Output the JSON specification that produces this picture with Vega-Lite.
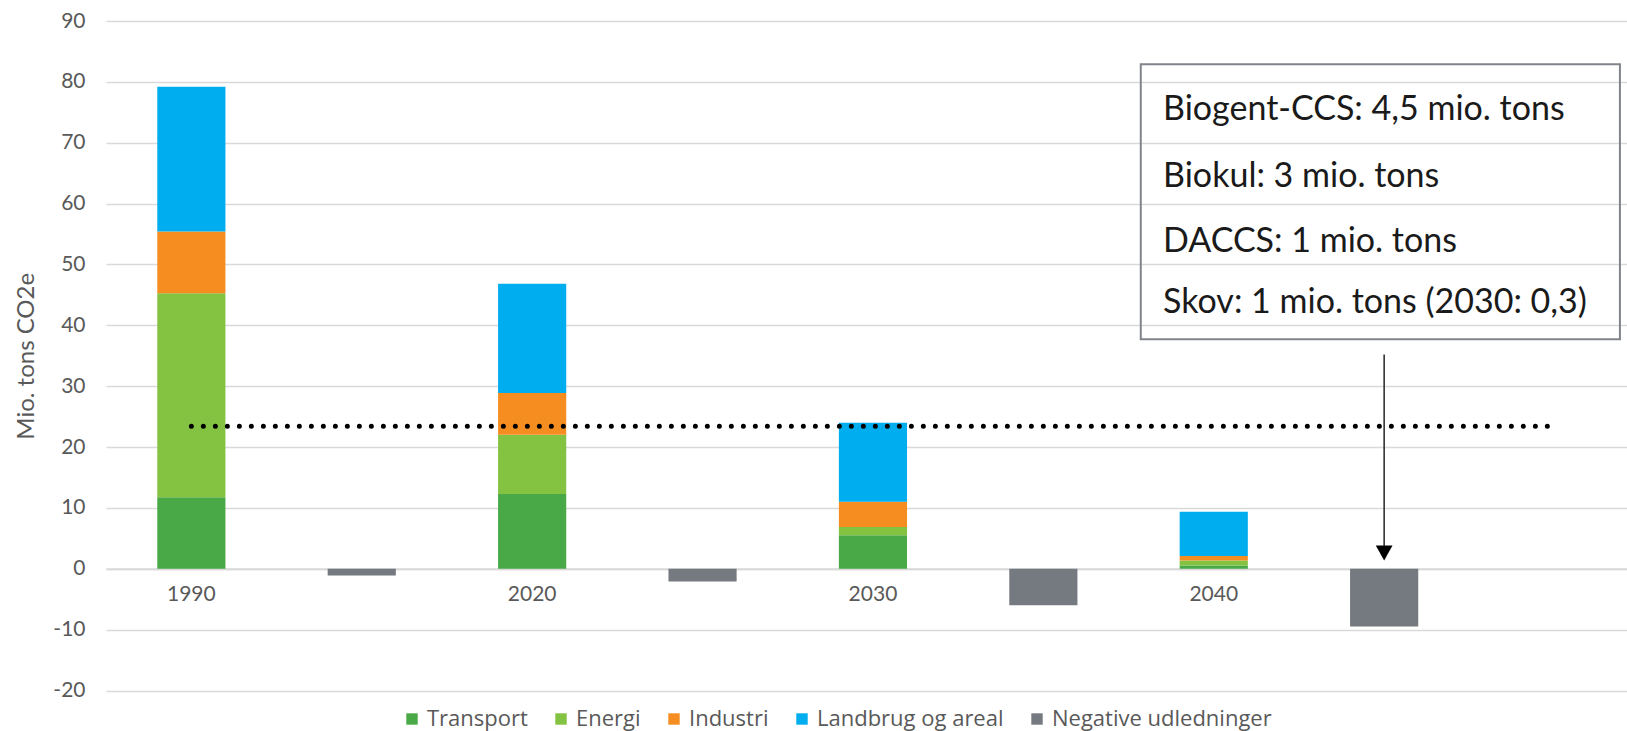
{
  "$schema": "https://vega.github.io/schema/vega-lite/v6.json",
  "width": 1521,
  "height": 669.5,
  "autosize": {"type": "none"},
  "padding": {"left": 106, "top": 21, "right": 0, "bottom": 40.5},
  "background": "white",
  "config": {
    "view": {"stroke": null},
    "font": "Lato",
    "axisY": {
      "grid": true, "gridColor": "#d9d9d9", "gridWidth": 1.5,
      "domain": false, "ticks": false,
      "labelFont": "Lato", "labelFontSize": 21, "labelColor": "#595959", "labelPadding": 21,
      "titleFont": "Lato", "titleFontSize": 24, "titleColor": "#595959", "titleFontWeight": "normal", "titlePadding": 14
    }
  },
  "datasets": {
    "udledninger": [
      {"kategori": "1990", "serie": 1, "sektor": "Transport", "værdi": 11.75},
      {"kategori": "1990", "serie": 2, "sektor": "Energi", "værdi": 33.5},
      {"kategori": "1990", "serie": 3, "sektor": "Industri", "værdi": 10.15},
      {"kategori": "1990", "serie": 4, "sektor": "Landbrug og areal", "værdi": 23.8},
      {"kategori": "1990 neg", "serie": 5, "sektor": "Negative udledninger", "værdi": -1.1},
      {"kategori": "2020", "serie": 1, "sektor": "Transport", "værdi": 12.3},
      {"kategori": "2020", "serie": 2, "sektor": "Energi", "værdi": 9.7},
      {"kategori": "2020", "serie": 3, "sektor": "Industri", "værdi": 6.9},
      {"kategori": "2020", "serie": 4, "sektor": "Landbrug og areal", "værdi": 17.95},
      {"kategori": "2020 neg", "serie": 5, "sektor": "Negative udledninger", "værdi": -2.1},
      {"kategori": "2030", "serie": 1, "sektor": "Transport", "værdi": 5.5},
      {"kategori": "2030", "serie": 2, "sektor": "Energi", "værdi": 1.35},
      {"kategori": "2030", "serie": 3, "sektor": "Industri", "værdi": 4.15},
      {"kategori": "2030", "serie": 4, "sektor": "Landbrug og areal", "værdi": 13.0},
      {"kategori": "2030 neg", "serie": 5, "sektor": "Negative udledninger", "værdi": -6.0},
      {"kategori": "2040", "serie": 1, "sektor": "Transport", "værdi": 0.55},
      {"kategori": "2040", "serie": 2, "sektor": "Energi", "værdi": 0.8},
      {"kategori": "2040", "serie": 3, "sektor": "Industri", "værdi": 0.75},
      {"kategori": "2040", "serie": 4, "sektor": "Landbrug og areal", "værdi": 7.25},
      {"kategori": "2040 neg", "serie": 5, "sektor": "Negative udledninger", "værdi": -9.5}
    ],
    "maal": [
      {"kategori": "1990", "værdi": 23.4},
      {"kategori": "efter 2040", "værdi": 23.4}
    ],
    "pil": [
      {"kategori": "2040 neg", "værdi": 35.2, "værdi2": 3.6, "spids": 2.6}
    ],
    "boks": [
      {"x": 5.572, "x2": 8.384, "værdi": 82.9, "værdi2": 37.7}
    ],
    "tekst": [
      {"x": 5.703, "værdi": 75.4, "tekst": "Biogent-CCS: 4,5 mio. tons"},
      {"x": 5.703, "værdi": 64.4, "tekst": "Biokul: 3 mio. tons"},
      {"x": 5.703, "værdi": 53.7, "tekst": "DACCS: 1 mio. tons"},
      {"x": 5.703, "værdi": 43.7, "tekst": "Skov: 1 mio. tons (2030: 0,3)"}
    ]
  },
  "layer": [
    {
      "encoding": {
        "x": {
          "field": "kategori", "type": "nominal",
          "scale": {
            "domain": ["1990", "1990 neg", "2020", "2020 neg", "2030", "2030 neg", "2040", "2040 neg", "efter 2040"],
            "paddingInner": 0.6, "paddingOuter": 0.263, "align": 0.572
          },
          "axis": {
            "title": null, "labelAngle": 0, "grid": false,
            "domain": true, "domainColor": "#d9d9d9", "domainWidth": 2,
            "ticks": false, "offset": -121.8,
            "labelExpr": "indexof(['1990','2020','2030','2040'], datum.label) >= 0 ? datum.label : ''",
            "labelFont": "Lato", "labelFontSize": 21, "labelColor": "#595959", "labelPadding": 15
          }
        }
      },
      "layer": [
        {
          "data": {"name": "udledninger"},
          "mark": {"type": "bar"},
          "encoding": {
            "y": {"field": "værdi", "type": "quantitative", "stack": "zero", "title": "Mio. tons CO2e",
                  "scale": {"domain": [-20, 90], "nice": false, "zero": false},
                  "axis": {"values": [-20, -10, 0, 10, 20, 30, 40, 50, 60, 70, 80, 90], "labelExpr": "'' + datum.value"}},
            "order": {"field": "serie", "type": "quantitative", "sort": "ascending"},
            "color": {
              "field": "sektor", "type": "nominal",
              "sort": ["Transport", "Energi", "Industri", "Landbrug og areal", "Negative udledninger"],
              "scale": {
                "domain": ["Transport", "Energi", "Industri", "Landbrug og areal", "Negative udledninger"],
                "range": ["#4aa947", "#84c341", "#f68d20", "#00aeef", "#757980"]
              },
              "legend": {
                "title": null, "orient": "none", "direction": "horizontal", "columns": 5,
                "legendX": 295, "legendY": 687, "padding": 0,
                "symbolType": "square", "symbolSize": 130, "symbolStrokeWidth": 0,
                "labelFont": "Open Sans", "labelFontSize": 22, "labelColor": "#595959", "labelLimit": 0,
                "labelOffset": 4, "columnPadding": 22
              }
            }
          }
        },
        {
          "data": {"name": "maal"},
          "mark": {"type": "line", "color": "#000000", "strokeWidth": 5, "strokeDash": [0, 12], "strokeCap": "round"},
          "encoding": {
            "y": {"field": "værdi", "type": "quantitative", "title": "Mio. tons CO2e",
                  "scale": {"domain": [-20, 90], "nice": false, "zero": false},
                  "axis": {"values": [-20, -10, 0, 10, 20, 30, 40, 50, 60, 70, 80, 90], "labelExpr": "'' + datum.value"}}
          }
        },
        {
          "data": {"name": "pil"},
          "mark": {"type": "rule", "color": "#333333", "strokeWidth": 1.6},
          "encoding": {
            "y": {"field": "værdi", "type": "quantitative", "title": "Mio. tons CO2e",
                  "scale": {"domain": [-20, 90], "nice": false, "zero": false},
                  "axis": {"values": [-20, -10, 0, 10, 20, 30, 40, 50, 60, 70, 80, 90], "labelExpr": "'' + datum.value"}},
            "y2": {"field": "værdi2"}
          }
        },
        {
          "data": {"name": "pil"},
          "mark": {"type": "point", "filled": true, "opacity": 1, "color": "#000000",
                   "shape": "M-1,-0.9L1,-0.9L0,0.9Z", "size": 279, "strokeWidth": 0},
          "encoding": {
            "y": {"field": "spids", "type": "quantitative", "title": "Mio. tons CO2e",
                  "scale": {"domain": [-20, 90], "nice": false, "zero": false},
                  "axis": {"values": [-20, -10, 0, 10, 20, 30, 40, 50, 60, 70, 80, 90], "labelExpr": "'' + datum.value"}}
          }
        }
      ]
    },
    {
      "layer": [
        {
          "data": {"name": "boks"},
          "mark": {"type": "rect", "fill": "#ffffff", "fillOpacity": 0, "stroke": "#80848a", "strokeWidth": 2},
          "encoding": {
            "x": {"field": "x", "type": "quantitative", "scale": {"domain": [-0.5006, 8.4255], "nice": false, "zero": false}, "axis": null},
            "x2": {"field": "x2"},
            "y": {"field": "værdi", "type": "quantitative", "title": "Mio. tons CO2e",
                  "scale": {"domain": [-20, 90], "nice": false, "zero": false},
                  "axis": {"values": [-20, -10, 0, 10, 20, 30, 40, 50, 60, 70, 80, 90], "labelExpr": "'' + datum.value"}},
            "y2": {"field": "værdi2"}
          }
        },
        {
          "data": {"name": "tekst"},
          "mark": {"type": "text", "align": "left", "baseline": "middle", "font": "Lato", "fontSize": 34, "color": "#1a1a1a"},
          "encoding": {
            "x": {"field": "x", "type": "quantitative", "scale": {"domain": [-0.5006, 8.4255], "nice": false, "zero": false}, "axis": null},
            "y": {"field": "værdi", "type": "quantitative", "title": "Mio. tons CO2e",
                  "scale": {"domain": [-20, 90], "nice": false, "zero": false},
                  "axis": {"values": [-20, -10, 0, 10, 20, 30, 40, 50, 60, 70, 80, 90], "labelExpr": "'' + datum.value"}},
            "text": {"field": "tekst"}
          }
        }
      ]
    }
  ],
  "resolve": {"scale": {"x": "independent"}, "axis": {"x": "independent"}}
}
